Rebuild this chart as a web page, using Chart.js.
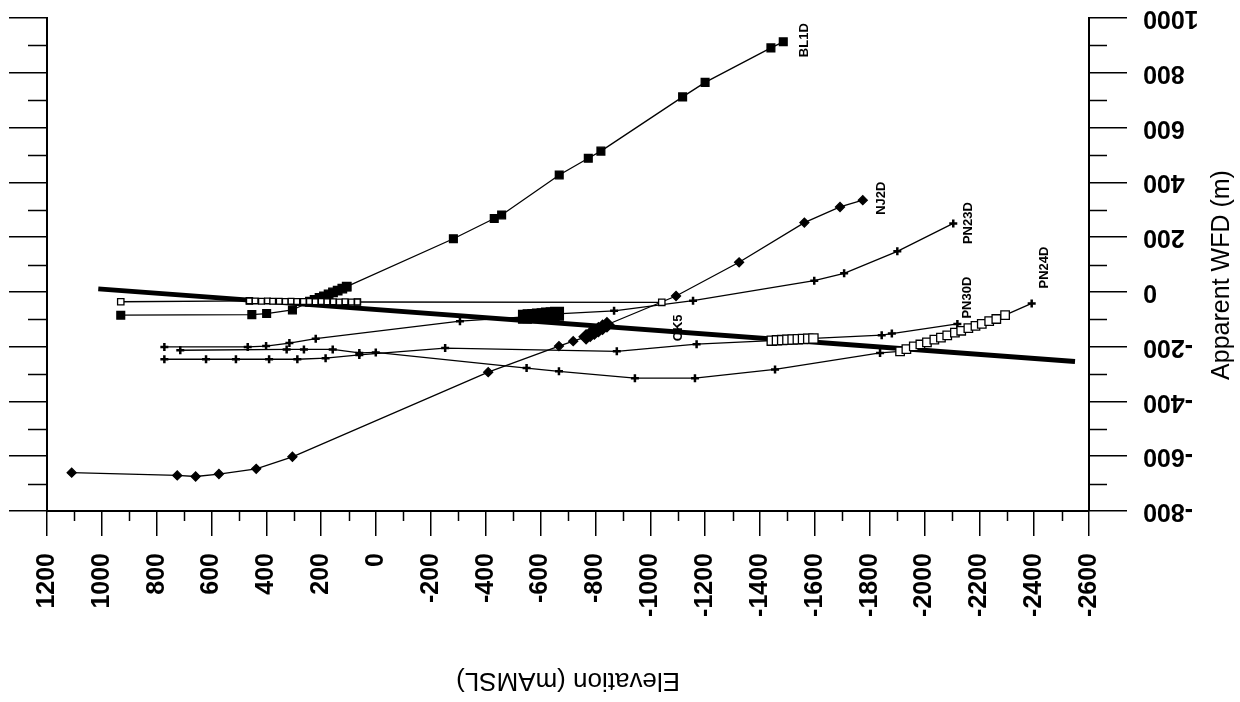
<!DOCTYPE html>
<html>
<head>
<meta charset="utf-8">
<title>Apparent WFD vs Elevation</title>
<script src="https://cdn.jsdelivr.net/npm/chart.js@4.4.1/dist/chart.umd.min.js"></script>
<style>
  html, body { margin: 0; padding: 0; background: #fff; }
  #wrap { width: 1240px; height: 702px; }
</style>
</head>
<body>
<div id="wrap"><canvas id="myChart" width="1240" height="702"></canvas></div>
<script>
'use strict';
// x = elevation (mAMSL), y = apparent WFD (m)
let bl1dElev = [931, 453, 399, 305, 241, 107, -282, -431, -458, -668, -774, -820, -1118, -1200, -1440, -1485];
let bl1dWfd = [-85, -83, -79, -66, -36, 19, 194, 268, 281, 427, 488, 514, 712, 765, 891, 913];
let bl1dDenseElev = [241, 224, 206, 190, 173, 157, 140, 123, 107];
let bl1dDenseWfd = [-36, -29, -22, -16, -9, -2, 5, 12, 19];

let ok5Elev = [931, 462, 68, -1042];
let ok5Wfd = [-36, -33, -37, -38];
let ok5DenseElev = [462, 441, 418, 396, 377, 353, 331, 310, 289, 265, 243, 222, 200, 179, 156, 134, 113, 90, 68];
let ok5DenseWfd = [-33, -33, -34, -33, -34, -34, -35, -34, -35, -35, -35, -36, -35, -36, -36, -37, -36, -37, -37];

let nj2dElev = [1110, 725, 658, 573, 437, 305, -409, -667, -719, -766, -842, -1094, -1324, -1562, -1692, -1775];
let nj2dWfd = [-660, -670, -674, -665, -646, -602, -293, -198, -180, -164, -120, -15, 108, 253, 310, 335];
let nj2dDenseElev = [-766, -781, -796, -811, -826, -842];
let nj2dDenseWfd = [-164, -155, -147, -138, -129, -120];

let pn23dElev = [772, 468, 401, 316, 220, -306, -543, -660, -868, -1156, -1598, -1707, -1901, -2105];
let pn23dWfd = [-201, -201, -198, -187, -171, -107, -91, -80, -69, -32, 41, 68, 148, 250];
let pn23dDenseElev = [-543, -560, -577, -594, -611, -627, -644, -660];
let pn23dDenseWfd = [-91, -89, -88, -86, -85, -83, -82, -80];

let pn30dElev = [772, 620, 511, 390, 287, 184, 61, -252, -878, -1169, -1443, -1595, -1844, -1881, -2120];
let pn30dWfd = [-246, -246, -246, -246, -246, -242, -230, -205, -217, -191, -178, -170, -158, -152, -117];
let pn30dDenseElev = [-1443, -1462, -1481, -1500, -1519, -1538, -1557, -1576, -1595];
let pn30dDenseWfd = [-178, -177, -176, -175, -174, -173, -172, -171, -170];

let pn24dElev = [714, 326, 263, 158, 61, 1, -549, -667, -944, -1163, -1455, -1838, -1911, -2294, -2391];
let pn24dWfd = [-213, -210, -210, -210, -223, -221, -278, -290, -315, -315, -283, -223, -217, -85, -42];
let pn24dDenseElev = [-1911, -1934, -1961, -1985, -2009, -2036, -2060, -2083, -2111, -2134, -2160, -2186, -2209, -2236, -2262, -2294];
let pn24dDenseWfd = [-217, -209, -199, -192, -184, -174, -167, -159, -149, -142, -132, -124, -117, -107, -99, -85];

let trendElev = [1013, -2549];
let trendWfd = [11, -254];

let wfdTicks = [1000, 800, 600, 400, 200, 0, -200, -400, -600, -800];

let boreNames = ['BL1D', 'NJ2D', 'PN23D', 'PN30D', 'PN24D', 'OK5'];
let boreLabelElev = [-1564, -1842, -2159, -2155, -2436, -1101];
let boreLabelWfd = [919, 342, 251, -21, 89, -131];

function pts(xs, ys) {
  let out = [];
  for (let i = 0; i < xs.length; i++) {
    out.push({ x: xs[i], y: ys[i] });
  }
  return out;
}

function lineSet(xs, ys, style, radius, filled) {
  return {
    data: pts(xs, ys),
    showLine: true,
    borderColor: '#000',
    borderWidth: 1.3,
    pointStyle: style,
    pointRadius: radius,
    pointBorderColor: '#000',
    pointBorderWidth: style === 'cross' ? 2.5 : 1.3,
    pointBackgroundColor: filled ? '#000' : '#fff'
  };
}

function denseSet(xs, ys, style, radius, filled) {
  return {
    data: pts(xs, ys),
    showLine: false,
    pointStyle: style,
    pointRadius: radius,
    pointBorderColor: '#000',
    pointBorderWidth: 1.3,
    pointBackgroundColor: filled ? '#000' : '#fff'
  };
}

const tickFont = { family: 'Liberation Sans', size: 25, weight: 'bold' };

const decor = {
  id: 'decor',
  afterDraw(chart) {
    const ctx = chart.ctx;
    const area = chart.chartArea;
    const x = chart.scales.x;
    const y = chart.scales.y;
    ctx.save();
    ctx.strokeStyle = '#000';
    ctx.lineWidth = 1.5;
    ctx.beginPath();
    // minor ticks at the odd hundreds
    for (let v = -700; v <= 900; v += 200) {
      let py = Math.round(y.getPixelForValue(v)) + 0.5;
      ctx.moveTo(area.right, py);
      ctx.lineTo(area.right + 18, py);
      ctx.moveTo(area.left - 19, py);
      ctx.lineTo(area.left, py);
    }
    for (let v = -2500; v <= 1100; v += 200) {
      let px = Math.round(x.getPixelForValue(v)) + 0.5;
      ctx.moveTo(px, area.bottom);
      ctx.lineTo(px, area.bottom + 10);
    }
    ctx.stroke();

    ctx.fillStyle = '#000';
    ctx.font = 'bold 25px "Liberation Sans"';
    ctx.textAlign = 'right';
    ctx.textBaseline = 'middle';
    wfdTicks.forEach(function (v) {
      ctx.save();
      ctx.translate(area.right + 54, y.getPixelForValue(v));
      ctx.rotate(Math.PI);
      ctx.fillText(String(v), 0, 0);
      ctx.restore();
    });

    ctx.textAlign = 'center';
    ctx.font = '25px "Liberation Sans"';
    ctx.save();
    ctx.translate(1222, 275);
    ctx.rotate(-Math.PI / 2);
    ctx.fillText('Apparent WFD (m)', 0, 0);
    ctx.restore();

    ctx.font = '26px "Liberation Sans"';
    ctx.save();
    ctx.translate((area.left + area.right) / 2, 680);
    ctx.rotate(Math.PI);
    ctx.fillText('Elevation (mAMSL)', 0, 0);
    ctx.restore();

    ctx.font = 'bold 13px "Liberation Sans"';
    for (let i = 0; i < boreNames.length; i++) {
      ctx.save();
      ctx.translate(x.getPixelForValue(boreLabelElev[i]), y.getPixelForValue(boreLabelWfd[i]));
      ctx.rotate(-Math.PI / 2);
      ctx.fillText(boreNames[i], 0, 0);
      ctx.restore();
    }
    ctx.restore();
  }
};

const ctx = document.getElementById('myChart').getContext('2d');
const myChart = new Chart(ctx, {
  type: 'scatter',
  data: {
    datasets: [
      denseSet(ok5DenseElev, ok5DenseWfd, 'rect', 4, false),
      denseSet(pn24dDenseElev, pn24dDenseWfd, 'rect', 6, false),
      denseSet(pn30dDenseElev, pn30dDenseWfd, 'rect', 6.5, false),
      denseSet(bl1dDenseElev, bl1dDenseWfd, 'rect', 6, true),
      denseSet(pn23dDenseElev, pn23dDenseWfd, 'rect', 9, true),
      denseSet(nj2dDenseElev, nj2dDenseWfd, 'rectRot', 7, true),
      lineSet(bl1dElev, bl1dWfd, 'rect', 5.5, true),
      lineSet(ok5Elev, ok5Wfd, 'rect', 4.5, false),
      lineSet(nj2dElev, nj2dWfd, 'rectRot', 4.5, true),
      lineSet(pn23dElev, pn23dWfd, 'cross', 4, true),
      lineSet(pn30dElev, pn30dWfd, 'cross', 4, true),
      lineSet(pn24dElev, pn24dWfd, 'cross', 4, true),
      {
        data: pts(trendElev, trendWfd),
        showLine: true,
        borderColor: '#000',
        borderWidth: 5,
        pointRadius: 0
      }
    ]
  },
  options: {
    responsive: false,
    animation: false,
    layout: { padding: { top: 18, left: 0, right: 0, bottom: 0 } },
    plugins: { legend: { display: false }, tooltip: { enabled: false } },
    scales: {
      x: {
        type: 'linear',
        reverse: true,
        min: -2600,
        max: 1200,
        ticks: {
          stepSize: 200,
          autoSkip: false,
          minRotation: 90,
          maxRotation: 90,
          padding: 17,
          color: '#000',
          font: tickFont,
          callback: v => String(v)
        },
        grid: { drawOnChartArea: false, tickLength: 25, color: '#000', lineWidth: 1.5 },
        border: { color: '#000', width: 2 },
        afterFit: s => { s.height = 191; }
      },
      y: {
        type: 'linear',
        position: 'right',
        min: -800,
        max: 1000,
        ticks: { stepSize: 200, display: false },
        grid: { drawOnChartArea: false, tickLength: 38, color: '#000', lineWidth: 1.5 },
        border: { color: '#000', width: 2 },
        afterFit: s => { s.width = 151; }
      },
      yl: {
        type: 'linear',
        position: 'left',
        min: -800,
        max: 1000,
        ticks: { stepSize: 200, display: false },
        grid: { drawOnChartArea: false, tickLength: 38, color: '#000', lineWidth: 1.5 },
        border: { color: '#000', width: 2 },
        afterFit: s => { s.width = 47; }
      }
    }
  },
  plugins: [decor]
});
</script>
</body>
</html>
